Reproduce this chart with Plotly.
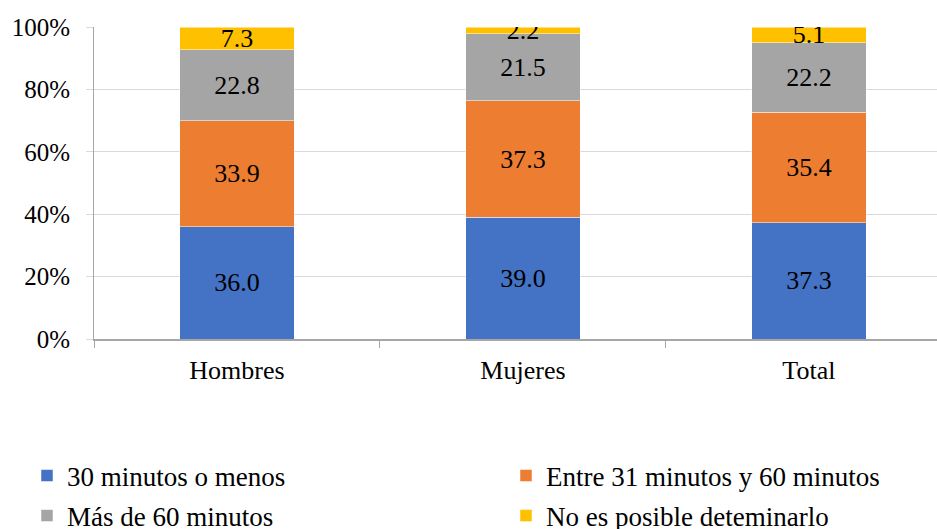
import plotly.graph_objects as go

categories = ["Hombres", "Mujeres", "Total"]
s_30_menos = [36.0, 39.0, 37.3]
s_31_60 = [33.9, 37.3, 35.4]
s_mas_60 = [22.8, 21.5, 22.2]
s_no_det = [7.3, 2.2, 5.1]
series_names = ["30 minutos o menos", "Entre 31 minutos y 60 minutos",
                "Más de 60 minutos", "No es posible deteminarlo"]
y_ticks = [0, 20, 40, 60, 80, 100]
y_tick_labels = [f"{v}%" for v in y_ticks]

colors = ["#4472C4", "#ED7D31", "#A5A5A5", "#FFC000"]
legends = ["legend", "legend2", "legend3", "legend4"]
# legend placement (container pixels): left x, middle y
legend_pos = [(27, 476), (506, 476), (27, 516), (506, 516)]
FONT = "Liberation Serif"
W, H = 937, 529

fig = go.Figure()
for name, vals, col, lg in zip(series_names, [s_30_menos, s_31_60, s_mas_60, s_no_det], colors, legends):
    fig.add_trace(go.Bar(
        x=categories, y=vals, name=name, showlegend=True,
        marker=dict(color=col, line=dict(color="white", width=0.5)),
        text=vals, texttemplate="%{y:.1f}", textposition="inside",
        insidetextanchor="middle", constraintext="none",
        textfont=dict(family=FONT, size=26, color="black"),
        legend=lg, hoverinfo="skip",
    ))

legend_common = dict(
    orientation="h", xref="container", yref="container", traceorder="normal",
    xanchor="left", yanchor="middle",
    font=dict(family=FONT, size=27, color="black"), bgcolor="rgba(0,0,0,0)",
    borderwidth=0, itemclick=False, itemdoubleclick=False,
)
legend_layout = {
    lg: dict(x=px / W, y=1 - py / H, **legend_common)
    for lg, (px, py) in zip(legends, legend_pos)
}

fig.update_layout(
    width=W, height=H, showlegend=True,
    barmode="stack", bargap=0.6,
    margin=dict(l=94, r=0, t=27, b=190, autoexpand=False),
    paper_bgcolor="white", plot_bgcolor="white",
    font=dict(family=FONT, size=26, color="black"),
    xaxis=dict(
        type="category", range=[-0.5, 2.448],
        showline=True, linecolor="#A6A6A6", linewidth=2,
        ticks="outside", tickson="boundaries", ticklen=7, tickcolor="#A6A6A6", tickwidth=1,
        ticklabelstandoff=7,
        showgrid=False, tickfont=dict(family=FONT, size=26, color="black"),
    ),
    yaxis=dict(
        range=[0, 100], tickmode="array", tickvals=y_ticks, ticktext=y_tick_labels,
        showline=True, linecolor="#A6A6A6", linewidth=1,
        showgrid=True, gridcolor="#D9D9D9", gridwidth=1,
        ticks="outside", ticklen=7, tickcolor="#D9D9D9",
        ticklabelstandoff=11, zeroline=False,
        tickfont=dict(family=FONT, size=25, color="black"),
    ),
    **legend_layout,
)

fig.write_html("out.html", config={"displayModeBar": False},
               post_script="document.body.style.margin='0';")
